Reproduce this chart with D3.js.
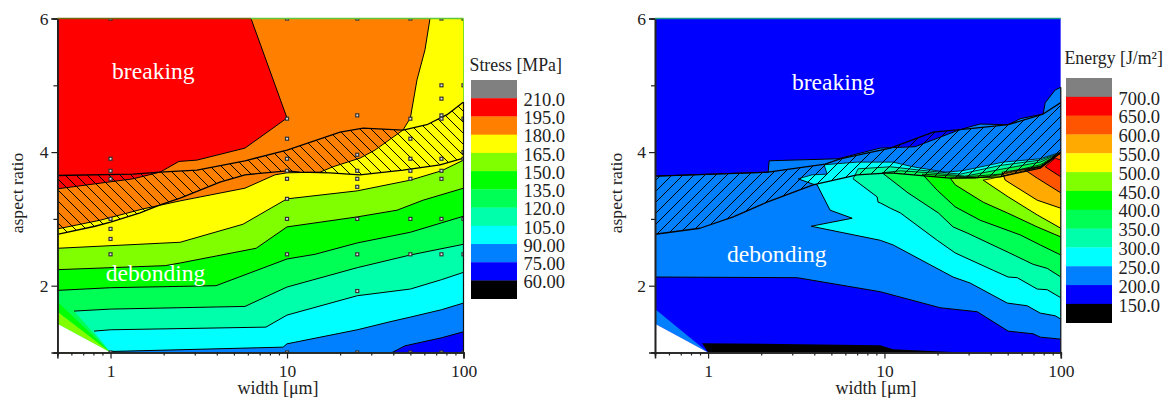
<!DOCTYPE html>
<html><head><meta charset="utf-8">
<script src="https://cdnjs.cloudflare.com/ajax/libs/d3/7.8.5/d3.min.js"></script>
<style>html,body{margin:0;background:#fff}svg{display:block}text{font-family:"Liberation Serif",serif;fill:#222}</style>
</head><body><svg id="c" width="1170" height="402"></svg>
<script>
// ---------- stress panel: contour lines as [width, aspect ratio]
const stressBaseColor = "#ff0000";
const stress195 = [[.5,3.45],[1.34,3.60],[1.91,3.70],[2.44,3.86],[3.09,3.88],[5.78,4.06],[10,4.51],[6.25,6]];
const stress180 = [[.5,2.85],[.872,2.98],[1.53,3.15],[2.48,3.27],[5.78,3.46],[8.55,3.66],[10,3.69],[15.4,3.70],[18.2,3.78],[25.9,3.91],[31.5,4.03],[45.4,4.33],[50,4.51],[54.5,5.08],[60.5,5.53],[64.6,6]];
const stress165 = [[.5,2.56],[2.48,2.65],[5.63,2.92],[10,3.30],[25,3.42],[50,3.58],[75,3.72],[100,3.88]];
const stress150 = [[.5,2.24],[2.04,2.30],[2.48,2.34],[6.68,2.56],[10,2.88],[25,3.03],[42,3.13],[59,3.28],[100,3.46]];
const stress135 = [[.5,1.93],[1,1.97],[3.96,2.00],[10,2.40],[14.4,2.47],[25,2.64],[50,2.80],[100,3.04]];
const stress120 = [[.621,1.62],[1,1.65],[5.78,1.69],[10,1.98],[25,2.27],[50,2.46],[100,2.62]];
const stress105 = [[.806,1.32],[1,1.34],[7.6,1.38],[10,1.56],[25,1.85],[50,1.95],[75,2.09],[100,2.20]];
const stress90  = [[1,1.015],[9.5,1.08],[10,1.13],[25,1.34],[38.3,1.46],[50,1.53],[75,1.64],[100,1.74]];
const stress75  = [[39.4,1],[46.6,1.10],[75,1.22],[100,1.31]];
const stressHatchTop = [[.5,3.65],[1.34,3.67],[1.91,3.70],[3.09,3.73],[5.78,3.87],[10,4.03],[20,4.30],[27,4.36],[45.4,4.33],[62,4.41],[80.7,4.56],[100,4.75]];
const stressHatchBottom = [[.5,2.77],[.817,2.89],[1,2.95],[1.47,3.09],[1.91,3.21],[2.48,3.31],[4.17,3.55],[5.78,3.66],[10,3.72],[11.8,3.70],[17.5,3.69],[25.9,3.66],[45.4,3.73],[73.6,3.81],[100,3.91]];
const stressFanGreen = [[.5,1.76],[1,1],[.5,1.61]];
const stressFanLime  = [[.5,1.61],[1,1],[.5,1.43]];
const blankFan = [[.5,1.43],[1,1],[.5,1]];
const sampleWidths = [1,10,25,50,75,100];
const sampleAspects = [
  [6,3.9,3.72,3.6,3,2.85,2.7,2.47,1],
  [6,4.5,4.2,3.9,3.72,3.6,3.3,3,2.47,1],
  [6,4.55,3.96,3.72,3.6,3.48,3,2.47,1.92,1],
  [6,4.5,4.2,3.9,3.72,3.6,3,2.47,1],
  [6,5,4.8,4.55,4.5,3.9,3.72,3.6,3,2.47,1],
  [6,5,4.5,4,3.9,3,2.47,1]
];
const stressLabels = ["210.0","195.0","180.0","165.0","150.0","135.0","120.0","105.0","90.00","75.00","60.00"];
const stressColors = ["#808080","#ff0000","#ff8000","#ffff00","#80ff00","#00ff00","#00ff55","#00ffaa","#00ffff","#0080ff","#0000ff","#000000"];

// ---------- energy panel
const energyUpper250 = [[.5,3.64],[2.19,3.70],[2.22,3.87],[5.46,3.90],[9.46,4.06],[14.9,4.08],[25.8,4.32],[30.6,4.38],[34.9,4.42],[50.3,4.41],[58.9,4.50],[79.4,4.57],[81.6,4.74],[92.9,4.93],[100,4.97]];
const energy200 = [[.5,2.13],[3.2,2.12],[9.46,1.91],[20.7,1.67],[33.6,1.61],[50.3,1.32],[69.7,1.28],[76.4,1.23],[100,1.20]];
const energy150 = [[1,1],[.925,1.14],[9.46,1.11],[11.2,1.05],[27.6,1]];
const energyFan = [[.5,1.65],[1,1],[.5,1.43]];
const energyRidge = [
  {lower:[[3.24,3.60],[3.94,3.52],[4.15,3.51],[4.92,3.13],[6.56,3.01],[3.84,2.89],[9.46,2.68],[11.2,2.61],[24.5,2.13],[30.6,2.04],[49.7,1.74],[64.4,1.70],[76.4,1.59],[92.9,1.55],[100,1.50]],
   upper:[[3.24,3.60],[3.89,3.66],[4.73,3.67],[4.55,3.81],[7,3.85],[11.2,3.85],[14.5,3.78],[22.1,3.70],[27.6,3.72],[47.1,3.85],[76.4,3.90],[100,4.00]]},
  {lower:[[6.64,3.60],[9.09,3.33],[9.2,3.25],[9.46,3.24],[10.8,3.16],[12.3,3.09],[19.9,2.68],[25.2,2.49],[41.4,2.23],[50.3,2.13],[56.6,2.12],[73.5,1.95],[83.7,1.94],[100,1.82]],
   upper:[[6.64,3.60],[7.1,3.75],[10.8,3.78],[15.9,3.73],[26.9,3.67],[45.3,3.80],[76.4,3.88],[100,3.99]]},
  {lower:[[9.7,3.69],[13.6,3.39],[20.2,3.09],[24.5,2.88],[29.4,2.79],[50.3,2.50],[69.7,2.32],[83.7,2.26],[100,2.13]],
   upper:[[9.7,3.69],[12.3,3.72],[18.2,3.69],[28.7,3.64],[45.3,3.74],[76.4,3.85],[100,3.99]]},
  {lower:[[16.4,3.67],[19.9,3.43],[25.2,3.18],[34.9,2.98],[58.9,2.76],[76.4,2.61],[100,2.46]],
   upper:[[16.4,3.67],[28.7,3.63],[45.3,3.67],[76.4,3.81],[100,3.99]]},
  {lower:[[23.6,3.61],[25.2,3.51],[36.3,3.25],[49.7,3.09],[73.5,2.88],[100,2.73]],
   upper:[[23.6,3.61],[32.7,3.61],[45.3,3.66],[76.4,3.79],[100,3.99]]},
  {lower:[[36.3,3.58],[50.3,3.33],[73.5,3.06],[100,2.86]],
   upper:[[36.3,3.58],[39.8,3.60],[46.5,3.64],[76.4,3.78],[100,3.99]]},
  {lower:[[46.5,3.70],[48.4,3.58],[73.5,3.28],[100,3.16]],
   upper:[[46.5,3.70],[76.4,3.78],[100,3.99]]},
  {lower:[[62.8,3.73],[73.5,3.61],[100,3.39]],
   upper:[[62.8,3.73],[76.4,3.78],[100,3.99]]},
  {lower:[[81.6,3.78],[100,3.63]],
   upper:[[81.6,3.78],[92.9,3.91],[100,3.88]]}
];
const energyHatchTop = [[.5,3.64],[2.19,3.70],[4.61,3.82],[5.61,3.90],[10.8,4.06],[18.9,4.30],[30.6,4.35],[50.3,4.41],[79.4,4.57],[100,4.74]];
const energyHatchBottom = [[.5,2.77],[.9,2.86],[1.39,3.03],[2.16,3.25],[3.94,3.51],[7,3.66],[10.8,3.69],[23.6,3.61],[45.3,3.63],[76.4,3.76],[100,3.99]];
const energyLabels = ["700.0","650.0","600.0","550.0","500.0","450.0","400.0","350.0","300.0","250.0","200.0","150.0"];
const energyColors = ["#808080","#ff0000","#ff5500","#ffaa00","#ffff00","#80ff00","#00ff00","#00ff55","#00ffaa","#00ffff","#0080ff","#0000ff","#000000"];
const energyRidgeColors = ["#00ffff","#00ffaa","#00ff55","#00ff00","#80ff00","#ffff00","#ffaa00","#ff5500","#ff0000"];

const minorX = [.5,.6,.7,.8,.9,2,3,4,5,6,7,8,9,20,30,40,50,60,70,80,90];
const majorX = [1,10,100];
const majorY = [2,4,6];
const minorY = [1,3,5];

const svg = d3.select("#c");
const defs = svg.append("defs");

function hatch(id, d) {
  const p = defs.append("pattern").attr("id", id).attr("patternUnits", "userSpaceOnUse")
    .attr("width", 11).attr("height", 11);
  d.forEach(s => p.append("path").attr("d", s).attr("stroke", "#000").attr("stroke-width", 1).attr("fill", "none"));
}
hatch("hatchBack", ["M-1,-1L12,12", "M-1,10L1,12", "M10,-1L12,1"]);
hatch("hatchFwd",  ["M-1,12L12,-1", "M-1,1L1,-1", "M10,12L12,10"]);

function panel(p) {
  const x = d3.scaleLog().domain([.5, 100]).range(p.xr);
  const y = d3.scaleLinear().domain([1, 6]).range([352.5, 18.5]);
  const line = d3.line().x(d => x(d[0])).y(d => y(d[1]));
  const g = svg.append("g");
  const clip = "clip" + p.id;
  defs.append("clipPath").attr("id", clip).append("rect")
    .attr("x", x(.5)).attr("y", y(6)).attr("width", x(100) - x(.5)).attr("height", y(1) - y(6));
  const plot = g.append("g").attr("clip-path", `url(#${clip})`);
  const area = (pts, color) => plot.append("path").attr("d", line(pts) + "Z").attr("fill", color);
  const stroke = (pts, w) => plot.append("path").attr("d", line(pts)).attr("fill", "none")
    .attr("stroke", "#000").attr("stroke-width", w || 1).attr("stroke-linejoin", "round");
  p.draw({x, y, area, stroke, plot});

  // axes
  const axes = g.append("g");
  const bottomMinor = axes.append("g").attr("transform", `translate(0,${y(1)})`)
    .call(d3.axisBottom(x).tickValues(minorX).tickSize(3).tickFormat(""));
  const bottomMajor = axes.append("g").attr("transform", `translate(0,${y(1)})`)
    .call(d3.axisBottom(x).tickValues(majorX).tickSize(6).tickPadding(6.5).tickFormat(d3.format("d")));
  const leftMinor = axes.append("g").attr("transform", `translate(${x(.5)},0)`)
    .call(d3.axisLeft(y).tickValues(minorY).tickSize(4).tickFormat(""));
  const leftMajor = axes.append("g").attr("transform", `translate(${x(.5)},0)`)
    .call(d3.axisLeft(y).tickValues(majorY).tickSize(6).tickPadding(3).tickFormat(d3.format("d")));
  [bottomMinor, bottomMajor, leftMinor, leftMajor].forEach(a => {
    a.selectAll("line").attr("stroke", "#222").attr("stroke-width", 1.2);
    a.selectAll(".domain").attr("stroke", "#222").attr("stroke-width", 1.6);
    a.selectAll("text").attr("font-size", 17.5).attr("font-family", '"Liberation Serif",serif').attr("fill", "#222");
  });
  // coloured top edge and right edge
  p.edges.forEach(e => g.append("line").attr("x1", x(e.w0)).attr("x2", x(e.w1)).attr("y1", y(e.a0)).attr("y2", y(e.a1))
      .attr("stroke", e.c).attr("stroke-width", e.sw));

  g.append("text").attr("x", p.xTitle).attr("y", 394).attr("text-anchor", "middle").attr("font-size", 18).text("width [μm]");
  g.append("text").attr("transform", `translate(${p.yTitle},193) rotate(-90)`).attr("text-anchor", "middle").attr("font-size", 17.6).text("aspect ratio");

  // annotations
  p.notes.forEach(n => g.append("text").attr("x", x(n.w)).attr("y", y(n.a)).attr("font-size", 23.6)
    .style("fill", "#fff").text(n.t));

  // legend
  const lg = g.append("g");
  lg.append("text").attr("x", p.legX - 1.5).attr("y", p.titleY).attr("font-size", 17.8).text(p.title);
  const s = d3.scaleBand().domain(d3.range(p.colors.length)).range([p.legTop, p.legBottom]);
  lg.selectAll("rect").data(p.colors).join("rect")
    .attr("x", p.legX).attr("width", 46).attr("y", (d, i) => s(i)).attr("height", s.bandwidth() + .3).attr("fill", d => d);
  lg.selectAll("text.l").data(p.labels).join("text").attr("class", "l")
    .attr("x", p.legX + 94).attr("y", (d, i) => s(i) + s.bandwidth() + 7.7)
    .attr("text-anchor", "end").attr("font-size", 18.5).text(d => d);
}

panel({
  id: "s", xr: [57.4, 463.5], xTitle: 278, yTitle: 22.5,
  title: "Stress [MPa]", titleY: 71, legX: 471, legTop: 80, legBottom: 298.7,
  colors: stressColors, labels: stressLabels,
  notes: [{w: 1.02, a: 5.09, t: "breaking"}, {w: .94, a: 2.07, t: "debonding"}],
  edges: [{w0: .5, w1: 6.25, a0: 6, a1: 6, c: "#6f6a10", sw: 1.5}, {w0: 6.25, w1: 100, a0: 6, a1: 6, c: "#5fc63c", sw: 1.5},
          {w0: 100, w1: 100, a0: 6, a1: 4.75, c: "#7fe020", sw: 1}, {w0: 100, w1: 100, a0: 4.75, a1: 1, c: "#111", sw: 1.2}],
  draw({area, stroke, plot, x, y}) {
    const below = c => {
      const pts = c.slice();
      if (c[c.length - 1][1] === 6) pts.push([100, 6]);
      pts.push([100, 1]);
      if (c[0][0] <= .5) pts.push([.5, 1]); else if (c[0][0] <= 1) pts.push([1, 1]);
      return pts;
    };
    area([[.5,6],[100,6],[100,1],[.5,1]], stressBaseColor);
    const layers = [stress195, stress180, stress165, stress150, stress135, stress120, stress105, stress90, stress75];
    const fills = stressColors.slice(2, 11);
    layers.forEach((c, i) => area(below(c), fills[i]));
    area(stressFanGreen, "#00ff00"); area(stressFanLime, "#80ff00"); area(blankFan, "#ffffff");
    layers.forEach(c => stroke(c, 1));
    area(stressHatchTop.concat(stressHatchBottom.slice().reverse()), "url(#hatchBack)");
    stroke(stressHatchTop, 1.3); stroke(stressHatchBottom, 1.3);
    // sampled design points
    const pts = sampleWidths.flatMap((w, i) => sampleAspects[i].map(a => [w, a]));
    plot.selectAll("rect.m").data(pts).join("rect").attr("class", "m")
      .attr("x", d => x(d[0]) - 1.5).attr("y", d => y(d[1]) - 1.5).attr("width", 3).attr("height", 3)
      .attr("fill", "#e8e8e8").attr("stroke", "#333").attr("stroke-width", 1.2);
  }
});

panel({
  id: "e", xr: [655, 1060.8], xTitle: 876, yTitle: 621.5,
  title: "Energy [J/m²]", titleY: 64, legX: 1066, legTop: 78, legBottom: 322.7,
  colors: energyColors, labels: energyLabels,
  notes: [{w: 2.99, a: 4.93, t: "breaking"}, {w: 1.28, a: 2.35, t: "debonding"}],
  edges: [{w0: .5, w1: 100, a0: 6, a1: 6, c: "#1a9a8a", sw: 1.5}, {w0: 100, w1: 100, a0: 4.97, a1: 1, c: "#111", sw: 1.2}],
  draw({area, stroke}) {
    area([[.5,6],[100,6],[100,1],[.5,1]], "#0000ff");
    area(energyUpper250.concat(energy200.slice().reverse()), "#0080ff");
    stroke(energyUpper250, 1); stroke(energy200, 1);
    energyRidge.forEach((b, i) => area(b.lower.concat(b.upper.slice().reverse()), energyRidgeColors[i]));
    energyRidge.forEach(b => { stroke(b.lower, 1); stroke(b.upper, .8); });
    area(energy150, "#000000");
    area(energyFan, "#0080ff"); area(blankFan, "#ffffff");
    area(energyHatchTop.concat(energyHatchBottom.slice().reverse()), "url(#hatchFwd)");
    stroke(energyHatchTop, 1.3); stroke(energyHatchBottom, 1.3);
  }
});
</script></body></html>
